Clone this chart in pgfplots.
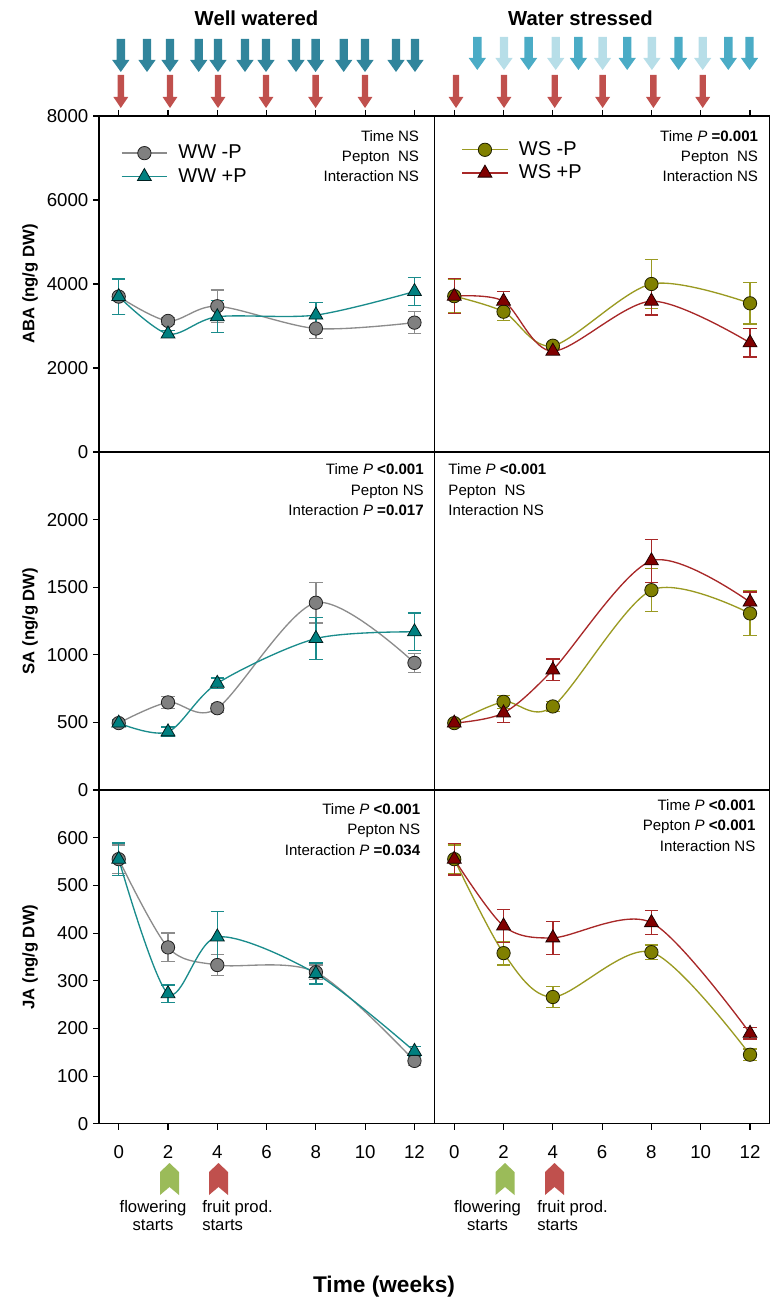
\documentclass[border=0pt]{standalone}
\usepackage{pgfplots}
\pgfplotsset{compat=1.18}
\usepackage{pgfplotstable}
\usepackage{fontspec}
\setmainfont{Liberation Sans}

\definecolor{wwline}{HTML}{8C8C8C}
\definecolor{wwfill}{HTML}{808080}
\definecolor{tealline}{HTML}{1A8C8C}
\definecolor{tealfill}{HTML}{008080}
\definecolor{oliveline}{HTML}{9A9A22}
\definecolor{olivefill}{HTML}{808000}
\definecolor{redline}{HTML}{A82828}
\definecolor{redfill}{HTML}{800000}
\definecolor{arrWW}{HTML}{31859C}
\definecolor{arrWSm}{HTML}{4BACC6}
\definecolor{arrWSl}{HTML}{B7DEE8}
\definecolor{arrRed}{HTML}{C0504D}
\definecolor{chevGreen}{HTML}{9BBB59}

% ABA
\pgfplotstableread{
x y e
0 3700 420
2 3120 80
4 3470 390
8 2940 240
12 3080 260
}\abaWWm
\pgfplotstableread{
x y e
0 3700 420
2 2810 80
4 3220 380
8 3260 300
12 3820 330
}\abaWWp
\pgfplotstableread{
x y e
0 3710 400
2 3340 210
4 2530 60
8 4000 590
12 3540 490
}\abaWSm
\pgfplotstableread{
x y e
0 3710 420
2 3590 230
4 2400 80
8 3590 330
12 2600 340
}\abaWSp
% SA
\pgfplotstableread{
x y e
0 495 20
2 648 45
4 605 30
8 1385 150
12 940 72
}\saWWm
\pgfplotstableread{
x y e
0 495 25
2 430 35
4 789 40
8 1120 155
12 1170 140
}\saWWp
\pgfplotstableread{
x y e
0 495 20
2 652 48
4 618 38
8 1478 160
12 1306 165
}\saWSm
\pgfplotstableread{
x y e
0 495 20
2 570 70
4 888 80
8 1695 160
12 1390 75
}\saWSp
% JA
\pgfplotstableread{
x y e
0 555 30
2 370 30
4 333 22
8 318 15
12 132 10
}\jaWWm
\pgfplotstableread{
x y e
0 555 34
2 273 18
4 392 53
8 315 22
12 152 10
}\jaWWp
\pgfplotstableread{
x y e
0 555 30
2 358 25
4 266 22
8 360 15
12 145 12
}\jaWSm
\pgfplotstableread{
x y e
0 555 33
2 415 35
4 390 35
8 422 25
12 190 12
}\jaWSp

\pgfplotsset{
  panel/.style={
    scale only axis, width=251.4pt, anchor=north west,
    xmin=-0.8, xmax=12.8, xtick={0,2,...,12},
    tick align=outside, major tick length=4.5pt,
    axis line style={line width=0.8pt},
    every tick/.style={black, line width=0.8pt},
    tick label style={font=\fontsize{14}{16}\selectfont},
    /pgf/number format/assume math mode=true,
    /pgf/number format/1000 sep={},
    legend cell align=left,
    legend image code/.code={\draw[mark repeat=2,mark phase=2,##1] plot coordinates {(0pt,0pt) (17pt,0pt) (34pt,0pt)};},
  },
  leftp/.style={ytick pos=left},
  rightp/.style={ytick=\empty},
  toprow/.style={xtick pos=right, xticklabels={}, height=252pt},
  midrow/.style={xtick=\empty, height=253.5pt},
  botrow/.style={xtick pos=left, height=250.4pt, xticklabel style={yshift=-8pt}},
  ser/.style n args={4}{
    color=#1, line width=1pt, smooth, mark=#2, mark size=#4,
    mark options={fill=#3, draw=black!75!#3, line width=0.6pt, solid},
    error bars/.cd, y dir=both, y explicit,
    error bar style={line width=1pt, #1},
    error mark options={rotate=90, mark size=5pt, line width=1pt, #1},
  },
  sWWm/.style={ser={wwline}{*}{wwfill}{5pt}},
  sWWp/.style={ser={tealline}{triangle*}{tealfill}{6pt}},
  sWSm/.style={ser={oliveline}{*}{olivefill}{5pt}},
  sWSp/.style={ser={redline}{triangle*}{redfill}{6pt}},
  leg/.style={legend style={at={(#1)}, anchor=north west, draw=none, fill=none,
      font=\fontsize{15}{18}\selectfont, row sep=4pt, inner sep=0pt,
      nodes={inner sep=0pt, text height=11pt, text depth=2.5pt},
      /tikz/every odd column/.append style={column sep=8pt}}},
}

\newcommand\blockarrow[7]{\fill[#7] (#1-#4,#2) -- (#1+#4,#2) -- (#1+#4,#3-#6) -- (#1+#5,#3-#6) -- (#1,#3) -- (#1-#5,#3-#6) -- (#1-#4,#3-#6) -- cycle;}
\newcommand\chev[2]{\fill[#2] (#1-9.5,1195) -- (#1-9.5,1172) -- (#1,1163) -- (#1+9.5,1172) -- (#1+9.5,1195) -- (#1,1187) -- cycle;}

\newcommand\annfont{\fontsize{11.3}{15}\selectfont}

\begin{document}
\begin{tikzpicture}
\path[use as bounding box] (0pt,0pt) rectangle (579.75pt,-984pt);

% ---------------- ABA ----------------
\begin{axis}[panel, leftp, toprow, at={(74.25pt,-87pt)}, ymin=0, ymax=8000, ytick={0,2000,...,8000}, leg={0.065,0.917}]
\addplot[sWWm] table[x=x,y=y,y error=e]{\abaWWm};
\addlegendentry{WW -P}
\addplot[sWWp] table[x=x,y=y,y error=e]{\abaWWp};
\addlegendentry{WW +P}
\end{axis}
\begin{axis}[panel, rightp, toprow, at={(325.9pt,-87pt)}, ymin=0, ymax=8000, leg={0.08,0.927}]
\addplot[sWSm] table[x=x,y=y,y error=e]{\abaWSm};
\addlegendentry{WS -P}
\addplot[sWSp] table[x=x,y=y,y error=e]{\abaWSp};
\addlegendentry{WS +P}
\end{axis}

% ---------------- SA ----------------
\begin{axis}[panel, leftp, midrow, at={(74.25pt,-339pt)}, ymin=0, ymax=2500, ytick={0,500,...,2000}]
\addplot[sWWm] table[x=x,y=y,y error=e]{\saWWm};
\addplot[sWWp] table[x=x,y=y,y error=e]{\saWWp};
\end{axis}
\begin{axis}[panel, rightp, midrow, at={(325.9pt,-339pt)}, ymin=0, ymax=2500]
\addplot[sWSm] table[x=x,y=y,y error=e]{\saWSm};
\addplot[sWSp] table[x=x,y=y,y error=e]{\saWSp};
\end{axis}

% ---------------- JA ----------------
\begin{axis}[panel, leftp, botrow, at={(74.25pt,-592.5pt)}, ymin=0, ymax=700, ytick={0,100,...,600}]
\addplot[sWWm] table[x=x,y=y,y error=e]{\jaWWm};
\addplot[sWWp] table[x=x,y=y,y error=e]{\jaWWp};
\end{axis}
\begin{axis}[panel, rightp, botrow, at={(325.9pt,-592.5pt)}, ymin=0, ymax=700]
\addplot[sWSm] table[x=x,y=y,y error=e]{\jaWSm};
\addplot[sWSp] table[x=x,y=y,y error=e]{\jaWSp};
\end{axis}

% ---------------- decorations (pixel coordinates) ----------------
\begin{scope}[x=0.75pt,y=-0.75pt]
% titles
\node[font=\fontsize{15.2}{18}\selectfont\bfseries] at (256.5,18) {Well watered};
\node[font=\fontsize{15.2}{18}\selectfont\bfseries] at (580.5,18) {Water stressed};
% blue arrows WW
\foreach \xx in {120.8,147,170,198.7,218,245,266,296,315.6,343.7,365,396,415}
  {\blockarrow{\xx}{39}{72}{4.2}{8.6}{12}{arrWW}}
% blue arrows WS
\foreach \xx/\cc in {477.3/arrWSm,504/arrWSl,528.6/arrWSm,555.7/arrWSl,578.4/arrWSm,602.6/arrWSl,627.2/arrWSm,651.9/arrWSl,678.5/arrWSm,702.7/arrWSl,728.3/arrWSm,749.5/arrWSm}
  {\blockarrow{\xx}{37}{70}{4.2}{8.6}{12}{\cc}}
% red arrows
\foreach \xx in {120.8,170,218,266,315.6,365,456,504,554.7,602.6,653.4,702.7}
  {\blockarrow{\xx}{75}{108}{3.2}{7.4}{11}{arrRed}}

% y labels
\node[rotate=90, font=\fontsize{12.5}{15}\selectfont\bfseries] at (30,284) {ABA (ng/g DW)};
\node[rotate=90, font=\fontsize{12.5}{15}\selectfont\bfseries] at (30,621) {SA (ng/g DW)};
\node[rotate=90, font=\fontsize{12.5}{15}\selectfont\bfseries] at (30,957) {JA (ng/g DW)};

% statistics annotations
\begin{scope}[every node/.style={font=\annfont, inner sep=0pt}]
\node[anchor=base east] at (419.3,142) {Time NS};
\node[anchor=base east] at (419.3,162) {Pepton\ \ NS};
\node[anchor=base east] at (419.3,182) {Interaction NS};
\node[anchor=base east] at (758.3,142) {Time \textit{P} \textbf{=0.001}};
\node[anchor=base east] at (758.3,162) {Pepton\ \ NS};
\node[anchor=base east] at (758.3,182) {Interaction NS};
\node[anchor=base east] at (424,474) {Time \textit{P} \textbf{<0.001}};
\node[anchor=base east] at (424,495) {Pepton NS};
\node[anchor=base east] at (424,515) {Interaction \textit{P} \textbf{=0.017}};
\node[anchor=base west] at (448.2,474) {Time \textit{P} \textbf{<0.001}};
\node[anchor=base west] at (448.2,495) {Pepton\ \ NS};
\node[anchor=base west] at (448.2,515) {Interaction NS};
\node[anchor=base east] at (420.4,814) {Time \textit{P} \textbf{<0.001}};
\node[anchor=base east] at (420.4,834) {Pepton NS};
\node[anchor=base east] at (420.4,855) {Interaction \textit{P} \textbf{=0.034}};
\node[anchor=base east] at (755.7,810) {Time \textit{P} \textbf{<0.001}};
\node[anchor=base east] at (755.7,830) {Pepton \textit{P} \textbf{<0.001}};
\node[anchor=base east] at (755.7,851) {Interaction NS};
\end{scope}

% chevrons
\chev{169.5}{chevGreen}
\chev{218.5}{arrRed}
\chev{505}{chevGreen}
\chev{554.5}{arrRed}
\begin{scope}[every node/.style={font=\fontsize{12.5}{13.5}\selectfont, inner sep=0pt}]
\node[align=center, anchor=north] at (153,1200) {flowering\\starts};
\node[align=left, anchor=north west] at (202,1200) {fruit prod.\\starts};
\node[align=center, anchor=north] at (487.5,1200) {flowering\\starts};
\node[align=left, anchor=north west] at (537,1200) {fruit prod.\\starts};
\end{scope}

\node[font=\fontsize{17}{20}\selectfont\bfseries] at (384,1287) {Time (weeks)};
\end{scope}
\end{tikzpicture}
\end{document}
